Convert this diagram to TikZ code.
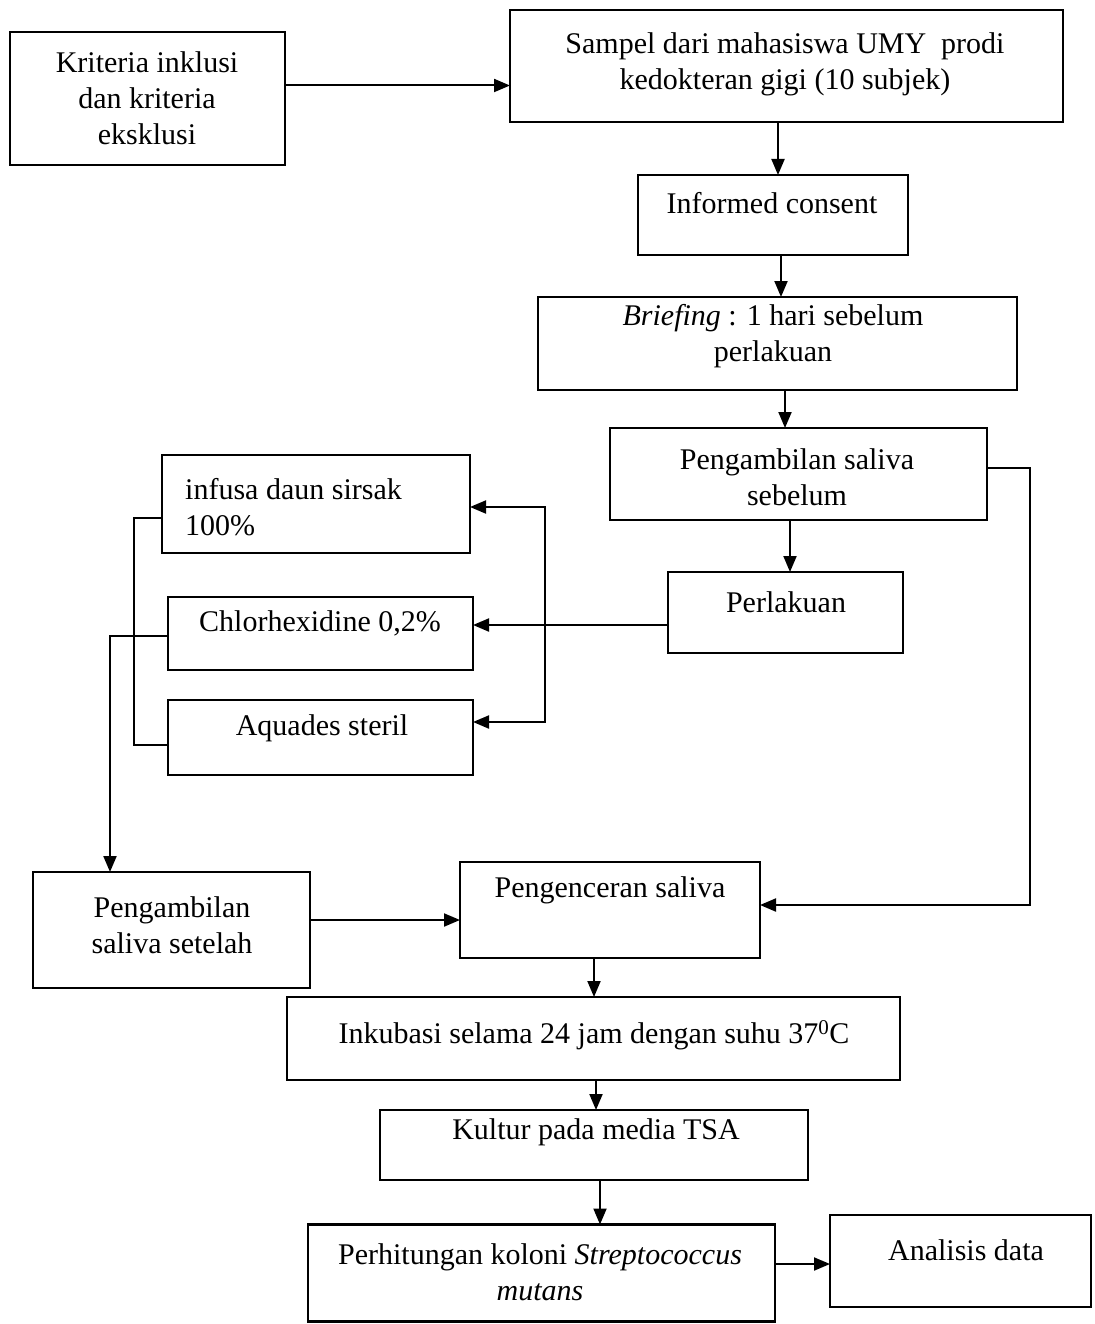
\documentclass[tikz,border=0pt]{standalone}
\usepackage{fontspec}
\setmainfont{Liberation Serif}
\usetikzlibrary{arrows.meta}
\begin{document}
\begin{tikzpicture}[x=1pt,y=-1pt,
  box/.style={draw,line width=2.2pt,rectangle,inner sep=0pt,outer sep=0pt},
  txt/.style={inner sep=0pt,font=\fontsize{30}{36}\selectfont,align=center},
  ln/.style={line width=2pt},
  arr/.style={line width=2pt,-{Triangle[length=16pt,width=13pt]}}]
\useasboundingbox[fill=white] (0,0) rectangle (1094,1324);
% boxes
\node[box,minimum width=275pt,minimum height=133pt] (b1) at (147.5,98.5) {};
\node[box,minimum width=553pt,minimum height=112pt] (b2) at (786.5,66) {};
\node[box,minimum width=270pt,minimum height=80pt] (b3) at (773,215) {};
\node[box,minimum width=479pt,minimum height=93pt] (b4) at (777.5,343.5) {};
\node[box,minimum width=377pt,minimum height=92pt] (b5) at (798.5,474) {};
\node[box,minimum width=308pt,minimum height=98pt] (b6) at (316,504) {};
\node[box,minimum width=305pt,minimum height=73pt] (b7) at (320.5,633.5) {};
\node[box,minimum width=305pt,minimum height=75pt] (b8) at (320.5,737.5) {};
\node[box,minimum width=235pt,minimum height=81pt] (b9) at (785.5,612.5) {};
\node[box,minimum width=277pt,minimum height=116pt] (b10) at (171.5,930) {};
\node[box,minimum width=300pt,minimum height=96pt] (b11) at (610,910) {};
\node[box,minimum width=613pt,minimum height=83pt] (b12) at (593.5,1038.5) {};
\node[box,minimum width=428pt,minimum height=70pt] (b13) at (594,1145) {};
\node[box,minimum width=467pt,minimum height=97pt] (b14) at (541.5,1273) {};
\node[box,minimum width=261pt,minimum height=92pt] (b15) at (960.5,1261) {};
% texts
\node[txt] (t1) at (147,98) {Kriteria inklusi\\dan kriteria\\eksklusi};
\node[txt] (t2) at (785,64) {Sampel dari mahasiswa UMY\ \ prodi\\kedokteran gigi (10 subjek)};
\node[txt] (t3) at (772,203) {Informed consent};
\node[txt] (t4) at (773,336) {\textit{Briefing} : 1 hari sebelum\\perlakuan};
\node[txt] (t5) at (797,477) {Pengambilan saliva\\sebelum};
\node[txt,align=left,anchor=west] (t6) at (185,507) {infusa daun sirsak\\100\%};
\node[txt] (t7) at (320,623) {Chlorhexidine 0,2\%};
\node[txt] (t8) at (322,728) {Aquades steril};
\node[txt] (t9) at (786,602) {Perlakuan};
\node[txt] (t10) at (172,925) {Pengambilan\\saliva setelah};
\node[txt] (t11) at (610,890) {Pengenceran saliva};
\node[txt] (t12) at (594,1035) {Inkubasi selama 24 jam dengan suhu 37\textsuperscript{0}C};
\node[txt] (t13) at (596,1132) {Kultur pada media TSA};
\node[txt] (t14) at (540,1272) {Perhitungan koloni \textit{Streptococcus}\\\textit{mutans}};
\node[txt] (t15) at (966,1250) {Analisis data};
% connectors
\draw[arr] ([yshift=13pt]b1.east) coordinate (k1) -- (k1 -| b2.west);
\draw[arr] (b2.south -| 778,0) -- (b3.north -| 778,0);
\draw[arr] (b3.south -| 781,0) -- (b4.north -| 781,0);
\draw[arr] (b4.south -| 785,0) -- (b5.north -| 785,0);
\draw[arr] (b5.south -| 790,0) -- (b9.north -| 790,0);
\coordinate (j) at (545,625);
\draw[arr] (b9.west |- j) -- (b7.east |- j);
\draw[arr] (j) |- (b6.east |- 0,507);
\draw[arr] (j) |- (b8.east |- 0,722);
\draw[ln] (b6.west |- 0,518) -| (134,630) |- (b8.west |- 0,745);
\draw[arr] (b7.west |- 0,636) -| (b10.north -| 110,0);
\draw[arr] (b5.east |- 0,468) -| (1030,686) |- (b11.east |- 0,905);
\draw[arr] (b10.east |- 0,920) -- (b11.west |- 0,920);
\draw[arr] (b11.south -| 594,0) -- (b12.north -| 594,0);
\draw[arr] (b12.south -| 596,0) -- (b13.north -| 596,0);
\draw[arr] (b13.south -| 600,0) -- (b14.north -| 600,0);
\draw[arr] (b14.east |- 0,1264) -- (b15.west |- 0,1264);
\end{tikzpicture}
\end{document}
